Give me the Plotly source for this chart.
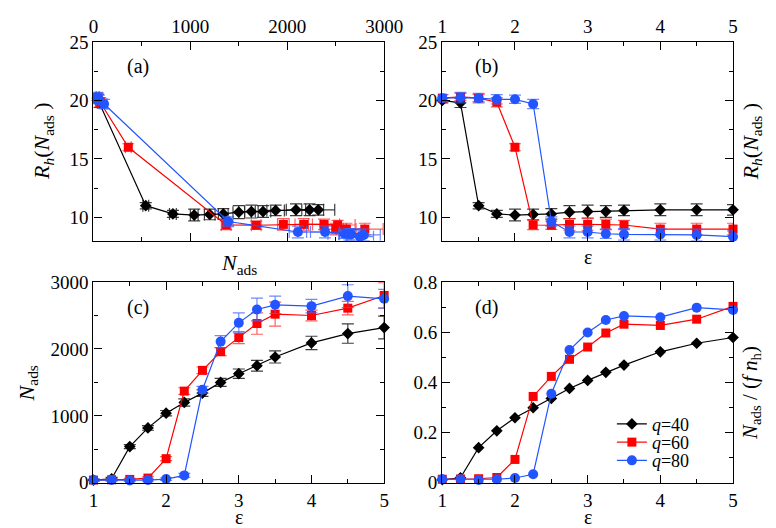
import plotly.graph_objects as go

# ---------------- data ----------------
eps = [1, 1.25, 1.5, 1.75, 2, 2.25, 2.5, 2.75, 3, 3.25, 3.5, 4, 4.5, 5]

nads_q40 = [40, 60, 540, 820, 1040, 1200, 1340, 1500, 1630, 1750, 1880, 2090, 2230, 2320]
nads_q60 = [40, 45, 50, 70, 360, 1370, 1680, 1960, 2170, 2380, 2520, 2500, 2610, 2800]
nads_q80 = [40, 40, 35, 40, 55, 110, 1390, 2110, 2390, 2590, 2660, 2640, 2790, 2750]

nerr_q40 = [15, 20, 30, 35, 40, 55, 50, 60, 70, 80, 90, 100, 145, 170]
nerr_q60 = [15, 15, 15, 20, 30, 50, 50, 60, 90, 160, 180, 80, 100, 190]
nerr_q80 = [15, 15, 15, 15, 20, 30, 50, 90, 150, 170, 130, 100, 170, 140]

rh_q40 = [20.0, 19.8, 11.0, 10.3, 10.2, 10.25, 10.3, 10.45, 10.5, 10.5, 10.6, 10.65, 10.65, 10.65]
rh_q60 = [20.2, 20.3, 20.2, 19.85, 16.0, 9.35, 9.33, 9.4, 9.4, 9.4, 9.35, 9.0, 9.0, 9.0]
rh_q80 = [20.2, 20.25, 20.2, 20.1, 20.1, 19.7, 9.65, 8.75, 8.75, 8.6, 8.55, 8.55, 8.5, 8.35]

rerr_q40 = [0.2, 0.4, 0.27, 0.3, 0.5, 0.45, 0.45, 0.55, 0.55, 0.5, 0.45, 0.5, 0.5, 0.45]
rerr_q60 = [0.3, 0.3, 0.3, 0.4, 0.3, 0.4, 0.35, 0.5, 0.5, 0.45, 0.4, 0.5, 0.5, 0.5]
rerr_q80 = [0.3, 0.45, 0.4, 0.4, 0.35, 0.4, 0.4, 0.5, 0.5, 0.4, 0.5, 0.5, 0.5, 0.5]

frac_q40 = [0.012, 0.02, 0.14, 0.207, 0.259, 0.299, 0.336, 0.376, 0.408, 0.44, 0.469, 0.522, 0.556, 0.579]
frac_q60 = [0.014, 0.015, 0.016, 0.021, 0.093, 0.344, 0.424, 0.492, 0.541, 0.597, 0.632, 0.627, 0.652, 0.703]
frac_q80 = [0.014, 0.014, 0.011, 0.014, 0.019, 0.034, 0.355, 0.529, 0.599, 0.649, 0.665, 0.66, 0.698, 0.689]

q_values = ["40", "60", "80"]

# ---------------- styles ----------------
FONT = "Liberation Serif, Times New Roman, Times, serif"
colors = ["#000000", "#ff0000", "#2255ff"]
errcolors = ["rgba(40,40,40,0.9)", "rgba(255,40,40,0.75)", "rgba(60,100,255,0.75)"]
symbols = ["diamond", "square", "circle"]
msizes = [9, 9, 10]

series = [
    (nads_q40, nerr_q40, rh_q40, rerr_q40, frac_q40),
    (nads_q60, nerr_q60, rh_q60, rerr_q60, frac_q60),
    (nads_q80, nerr_q80, rh_q80, rerr_q80, frac_q80),
]
legend_names = ["legend", "legend2", "legend3"]

fig = go.Figure()

for i, (nads, nerr, rh, rerr, frac) in enumerate(series):
    common = dict(mode="lines+markers", cliponaxis=False,
                  line=dict(color=colors[i], width=1.2),
                  marker=dict(symbol=symbols[i], size=msizes[i], color=colors[i]),
                  showlegend=False)
    fig.add_trace(go.Scatter(x=nads, y=rh, xaxis="x", yaxis="y",
                             error_x=dict(type="data", array=nerr, color=errcolors[i], width=6, thickness=1.2),
                             error_y=dict(type="data", array=rerr, color=errcolors[i], width=6, thickness=1.2),
                             **common))
    fig.add_trace(go.Scatter(x=eps, y=rh, xaxis="x2", yaxis="y2",
                             error_y=dict(type="data", array=rerr, color=errcolors[i], width=6, thickness=1.2),
                             **common))
    fig.add_trace(go.Scatter(x=eps, y=nads, xaxis="x3", yaxis="y3",
                             error_y=dict(type="data", array=nerr, color=errcolors[i], width=6, thickness=1.2),
                             **common))
    c2 = dict(common)
    c2["showlegend"] = True
    fig.add_trace(go.Scatter(x=eps, y=frac, xaxis="x4", yaxis="y4", legend=legend_names[i],
                             name="<i>q</i>=" + q_values[i], **c2))

W, H = 776, 528
def px(x):
    return x / W
def py(y):
    return 1 - y / H

axis_common = dict(showline=True, linecolor="black", linewidth=1.3, mirror="ticks",
                   ticks="inside", ticklen=8, tickwidth=1.2, tickcolor="black",
                   showgrid=False, zeroline=False,
                   tickfont=dict(family=FONT, size=19, color="black"))

def minor(d):
    return dict(dtick=d, ticks="inside", ticklen=4, tickwidth=1.2, tickcolor="black", showgrid=False)

dom_xl = [px(83), px(383)]
dom_xr = [px(443), px(743)]
dom_yt = [py(232), py(25)]
dom_yb = [py(484), py(275)]

def leg(yc):
    return dict(x=px(618), y=py(yc), xanchor="left", yanchor="middle",
                bgcolor="rgba(0,0,0,0)", borderwidth=0,
                font=dict(family=FONT, size=18, color="black"))

fig.update_layout(
    width=W, height=H,
    margin=dict(l=0, r=0, t=0, b=0),
    paper_bgcolor="white", plot_bgcolor="white",
    font=dict(family=FONT, color="black"),
    xaxis=dict(domain=dom_xl, anchor="y", side="top", range=[0, 3000], tickvals=[0, 1000, 2000, 3000],
               minor=minor(500), **axis_common),
    yaxis=dict(domain=dom_yt, anchor="x", range=[8, 25], dtick=5, minor=minor(2.5), **axis_common),
    xaxis2=dict(domain=dom_xr, anchor="y2", side="top", range=[1, 5], dtick=1, minor=minor(0.5), **axis_common),
    yaxis2=dict(domain=dom_yt, anchor="x2", range=[8, 25], dtick=5, minor=minor(2.5), **axis_common),
    xaxis3=dict(domain=dom_xl, anchor="y3", range=[1, 5], dtick=1, minor=minor(0.5), **axis_common),
    yaxis3=dict(domain=dom_yb, anchor="x3", range=[0, 3000], dtick=1000, minor=minor(500), **axis_common),
    xaxis4=dict(domain=dom_xr, anchor="y4", range=[1, 5], dtick=1, minor=minor(0.5), **axis_common),
    yaxis4=dict(domain=dom_yb, anchor="x4", range=[0, 0.8], dtick=0.2, minor=minor(0.1), **axis_common),
    legend=leg(423),
    legend2=leg(442),
    legend3=leg(461),
)

ann = []
def A(x, y, text, size=20, angle=0):
    ann.append(dict(x=px(x), y=py(y), xref="paper", yref="paper", text=text, showarrow=False,
                    textangle=angle, xanchor="center", yanchor="middle",
                    font=dict(family=FONT, size=size, color="black")))

rh_title = "<i>R</i><sub><i>h</i></sub>(<i>N</i><sub>ads</sub> )"
A(129, 51, "(a)", 20)
A(489, 51, "(b)", 20)
A(129, 301, "(c)", 20)
A(489, 301, "(d)", 20)
A(233, 256, "<i>N</i><sub>ads</sub>", 22)
A(31, 128, rh_title, 22, -90)
A(593, 249, "ε", 20)
A(762, 128, rh_title, 22, -90)
A(15, 381, "<i>N</i><sub>ads</sub>", 22, -90)
A(233, 520, "ε", 20)
A(593, 520, "ε", 20)
A(762, 390, "<i>N</i><sub>ads</sub> / (<i>f</i> <i>n</i><sub>h</sub>)", 21, -90)
fig.update_layout(annotations=ann)

fig.write_html("out.html")
